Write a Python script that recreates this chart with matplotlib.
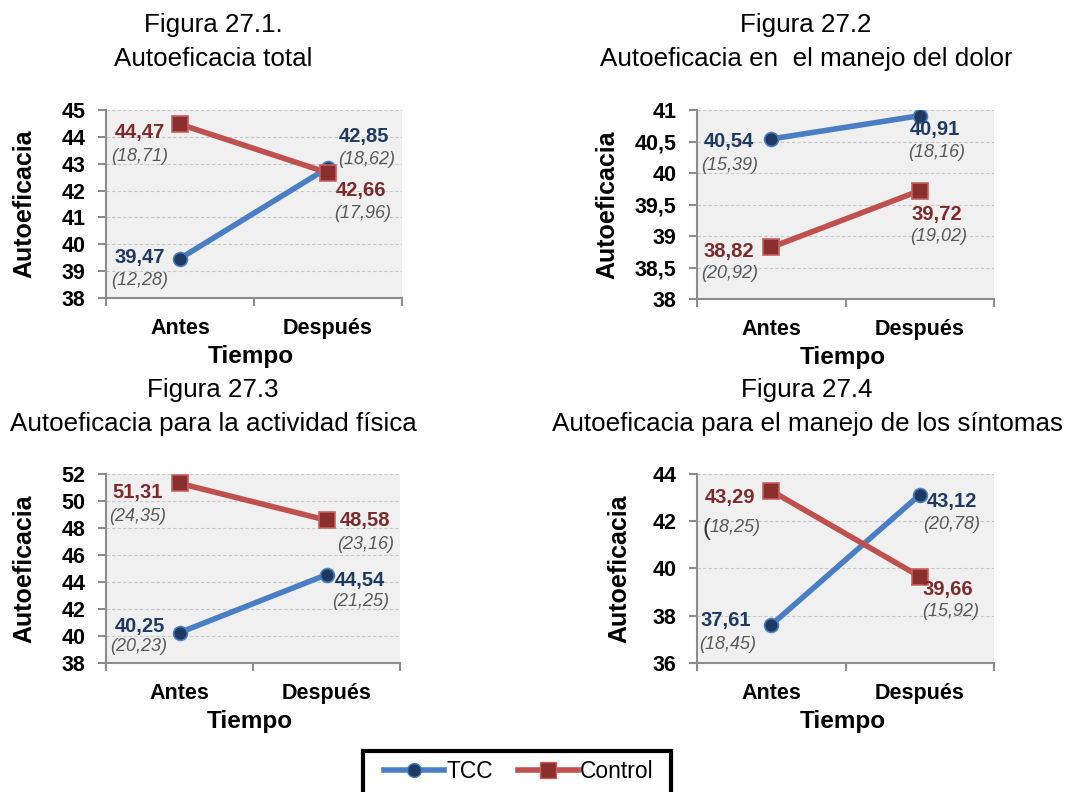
import matplotlib.pyplot as plt
from matplotlib.patches import Rectangle
from matplotlib.ticker import FuncFormatter, FixedLocator

plt.rcParams['font.family'] = ['Liberation Sans', 'DejaVu Sans']

times = ["Antes", "Después"]
series_names = ["TCC", "Control"]

titles = [
    "Figura 27.1.\nAutoeficacia total",
    "Figura 27.2\nAutoeficacia en  el manejo del dolor",
    "Figura 27.3\nAutoeficacia para la actividad física",
    "Figura 27.4\nAutoeficacia para el manejo de los síntomas",
]

tcc_means = [[39.47, 42.85], [40.54, 40.91], [40.25, 44.54], [37.61, 43.12]]
tcc_sds = [["(12,28)", "(18,62)"], ["(15,39)", "(18,16)"], ["(20,23)", "(21,25)"], ["(18,45)", "(20,78)"]]
ctrl_means = [[44.47, 42.66], [38.82, 39.72], [51.31, 48.58], [43.29, 39.66]]
ctrl_sds = [["(18,71)", "(17,96)"], ["(20,92)", "(19,02)"], ["(24,35)", "(23,16)"], ["18,25)", "(15,92)"]]

y_ranges = [(38, 45, 1), (38, 41, 0.5), (38, 52, 2), (36, 44, 2)]

# axes boxes in pixels: left, right, top, bottom
boxes = [(106, 402, 110, 298), (697, 994, 110, 299),
         (106, 400, 474, 663), (697, 994, 474, 663)]
title_centers = [(213, 42), (806, 42), (213, 407), (807, 407)]
ylabel_right = [36, 619, 36, 631]

# label offsets in pixels (value dx, dy, sd dx, dy, ha)
tcc_offsets = [
    [(-15, 1, -12, -22, "right"), (11, 31, 10, 8, "left")],
    [(-17, -3, -13, -27, "right"), (-10, -14, -12, -37, "left")],
    [(-14, 6, -12, -14, "right"), (8, -6, 6, -27, "left")],
    [(-20, 4, -15, -20, "right"), (7, -7, 3, -30, "left")],
]
ctrl_offsets = [
    [(-15, -8, -12, -32, "right"), (8, -18, 6, -41, "left")],
    [(-17, -4, -13, -26, "right"), (-8, -24, -10, -46, "left")],
    [(-17, -9, -13, -33, "right"), (13, 0, 11, -24, "left")],
    [(-16, -7, -11, -37, "right"), (3, -13, 2, -35, "left")],
]

blue = "#4A7EC4"
blue_dark = "#1F3A60"
red = "#C0504D"
red_dark = "#7E2A2A"
sd_gray = "#595959"

W, H = 1070, 792
fig = plt.figure(figsize=(W / 100, H / 100), dpi=100)


def fmt(v, pos=None):
    return ("%g" % v).replace(".", ",")


for i in range(4):
    l, r, t, b = boxes[i]
    ax = fig.add_axes([l / W, 1 - b / H, (r - l) / W, (b - t) / H])
    ax.set_facecolor("#F0F0F0")
    x = [0.5, 1.5]
    ax.plot(x, tcc_means[i], color=blue, lw=4, marker="o", ms=10,
            mfc=blue_dark, mec=blue, mew=1.2, zorder=3, solid_capstyle="round")
    ax.plot(x, ctrl_means[i], color=red, lw=4, marker="s", ms=11,
            mfc="#8B2E2E", mec="#C86060", mew=1.2, zorder=3, solid_capstyle="round")

    for means, sds, offs, col in [(tcc_means[i], tcc_sds[i], tcc_offsets[i], blue_dark),
                                  (ctrl_means[i], ctrl_sds[i], ctrl_offsets[i], red_dark)]:
        for j in range(2):
            vdx, vdy, sdx, sdy, ha = offs[j]
            ax.annotate(fmt(means[j]), (x[j], means[j]), xytext=(vdx, vdy),
                        textcoords="offset pixels", ha=ha, va="center",
                        fontsize=14.5, fontweight="bold", color=col, zorder=4)
            ax.annotate(sds[j], (x[j], means[j]), xytext=(sdx, sdy),
                        textcoords="offset pixels", ha=ha, va="center",
                        fontsize=13, fontstyle="italic", color=sd_gray, zorder=4)
    if i == 3:
        # the odd upright bracket in front of (18,25)
        ax.annotate("(", (x[0], ctrl_means[i][0]), xytext=(-65, -38),
                    textcoords="offset pixels", ha="center", va="center",
                    fontsize=17, color="#333333", zorder=4)

    lo, hi, step = y_ranges[i]
    ax.set_ylim(lo, hi)
    n = int(round((hi - lo) / step))
    yt = [lo + k * step for k in range(n + 1)]
    ax.set_yticks(yt)
    ax.yaxis.set_major_formatter(FuncFormatter(fmt))
    for yv in yt[1:]:
        ax.axhline(yv, color="#C8C8C8", lw=0.8, ls=(0, (3, 2)), zorder=1)

    ax.set_xlim(0, 2)
    ax.set_xticks(x)
    ax.set_xticklabels(times)
    ax.xaxis.set_minor_locator(FixedLocator([0, 1, 2]))
    ax.tick_params(axis="x", which="major", length=0, pad=14.5, labelsize=15.5)
    ax.tick_params(axis="x", which="minor", length=6, width=1.5, color="#8C8C8C")
    ax.tick_params(axis="y", length=6, width=1.5, color="#8C8C8C", labelsize=15.5, pad=9)
    for lab in ax.get_xticklabels() + ax.get_yticklabels():
        lab.set_fontweight("bold")

    for side in ["top", "right"]:
        ax.spines[side].set_visible(False)
    for side in ["left", "bottom"]:
        ax.spines[side].set_color("#8C8C8C")
        ax.spines[side].set_linewidth(1.5)

    ax.set_ylabel("Autoeficacia", fontsize=18, fontweight="bold")
    ax.yaxis.set_label_coords((ylabel_right[i] - l) / (r - l), 0.5)
    ax.set_xlabel("Tiempo", fontsize=17.5, fontweight="bold")
    ax.xaxis.set_label_coords(0.49, -47 / (b - t))

    cx, cy = title_centers[i]
    fig.text(cx / W, 1 - cy / H, titles[i], ha="center", va="center",
             fontsize=18.7, linespacing=1.5)

# legend box (bottom clipped by figure edge)
fig.patches.append(Rectangle((363 / W, -0.02), 308 / W, 0.02 + 41 / H,
                             transform=fig.transFigure, fill=False,
                             edgecolor="black", lw=3, figure=fig))
h1, = plt.plot([], [], color=blue, lw=4, marker="o", ms=10, mfc=blue_dark, mec=blue)
h2, = plt.plot([], [], color=red, lw=4, marker="s", ms=11, mfc="#8B2E2E", mec="#C86060")
fig.legend([h1, h2], series_names, loc="center", bbox_to_anchor=(519 / W, 1 - 772 / H),
           ncol=2, frameon=False, fontsize=16.5, handlelength=2.6, handletextpad=0.1,
           columnspacing=1.1)

fig.savefig("out.png", dpi=100)
